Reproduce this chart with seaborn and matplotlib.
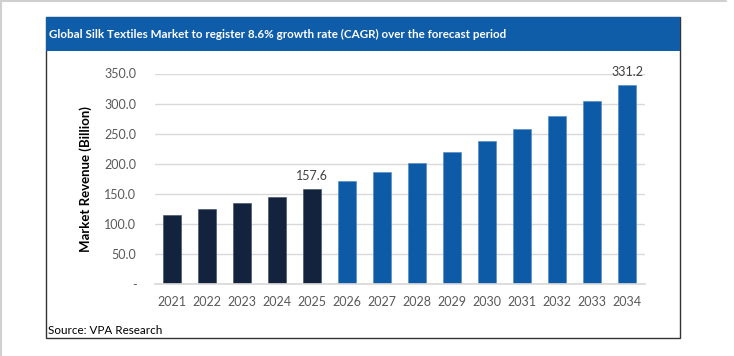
import matplotlib
matplotlib.use("Agg")
import matplotlib.pyplot as plt
import seaborn as sns
import pandas as pd
from matplotlib.patches import Rectangle

years = ["2021", "2022", "2023", "2024", "2025", "2026", "2027", "2028",
         "2029", "2030", "2031", "2032", "2033", "2034"]
revenue = [114.0, 124.0, 134.0, 145.0, 157.6, 171.0, 186.0, 202.0,
           219.0, 238.0, 258.0, 280.0, 304.0, 331.2]
phase = ["Historical"] * 5 + ["Forecast"] * 9
yticks = [0, 50, 100, 150, 200, 250, 300, 350]
ytick_labels = ["-", "50.0", "100.0", "150.0", "200.0", "250.0", "300.0", "350.0"]
title = "Global Silk Textiles Market to register 8.6% growth rate (CAGR) over the forecast period"
ylabel = "Market Revenue (Billion)"
source = "Source: VPA Research"
labelled = {"2025": "157.6", "2034": "331.2"}

df = pd.DataFrame({"year": years, "revenue": revenue, "phase": phase})

sns.set_theme(style="white")
plt.rcParams["font.family"] = ["Lato", "DejaVu Sans"]

W, H = 734, 356
fig = plt.figure(figsize=(W / 100, H / 100), dpi=100)
fig.patch.set_facecolor("white")

def fx(px):
    return px / W

def fy(py):
    return 1 - py / H

# outer light border lines
fig.add_artist(plt.Line2D([0, fx(726)], [fy(0.8), fy(0.8)], color="#d0d0d0", lw=1.5))
fig.add_artist(plt.Line2D([fx(0.8), fx(0.8)], [fy(0), fy(356)], color="#d0d0d0", lw=1.5))

# frame
fig.add_artist(Rectangle((fx(45.5), fy(338)), fx(680) - fx(45.5), fy(16.5) - fy(338),
                         fill=False, edgecolor="#333333", lw=1.0))
# title bar
fig.add_artist(Rectangle((fx(46), fy(50.7)), fx(679.5) - fx(46), fy(17) - fy(50.7),
                         facecolor="#0F5DA8", edgecolor="none"))
fig.text(fx(49), fy(34), title, color="white", fontsize=8.4, fontweight="bold",
         ha="left", va="center")

ax = fig.add_axes([fx(154.5), fy(284), fx(644.5) - fx(154.5), fy(73.5) - fy(284)])
sns.barplot(data=df, x="year", y="revenue", hue="phase",
            palette={"Historical": "#13233D", "Forecast": "#0D5BA7"},
            dodge=False, width=0.52, legend=False, ax=ax, saturation=1,
            edgecolor="#4f87c4", linewidth=0.4)
for p, ph in zip(ax.patches, phase):
    if ph == "Historical":
        p.set_edgecolor("#3a4a60")

ax.set_xlim(-0.5, len(years) - 0.5)
ax.set_ylim(0, 350)
ax.set_yticks(yticks)
ax.set_yticklabels(ytick_labels)
ax.yaxis.grid(True, color="#d9d9d9", lw=1)
ax.set_axisbelow(True)
for s in ["top", "right", "left"]:
    ax.spines[s].set_visible(False)
ax.spines["bottom"].set_color("#d9d9d9")
ax.tick_params(axis="y", length=0, pad=13, labelsize=9, labelcolor="#595959")
ax.tick_params(axis="x", length=0, pad=9, labelsize=9, labelcolor="#595959")
ax.set_xlabel("")
ax.set_ylabel(ylabel, fontsize=9.5, fontweight="bold", color="black", labelpad=9)

for i, y in enumerate(years):
    if y in labelled:
        ax.annotate(labelled[y], (i, revenue[i]), xytext=(0, 5),
                    textcoords="offset points", ha="center", va="bottom",
                    fontsize=9, color="#404040", annotation_clip=False)

fig.text(fx(48), fy(331), source, fontsize=8.4, color="black", ha="left", va="center")

fig.savefig("out.png", dpi=100)
